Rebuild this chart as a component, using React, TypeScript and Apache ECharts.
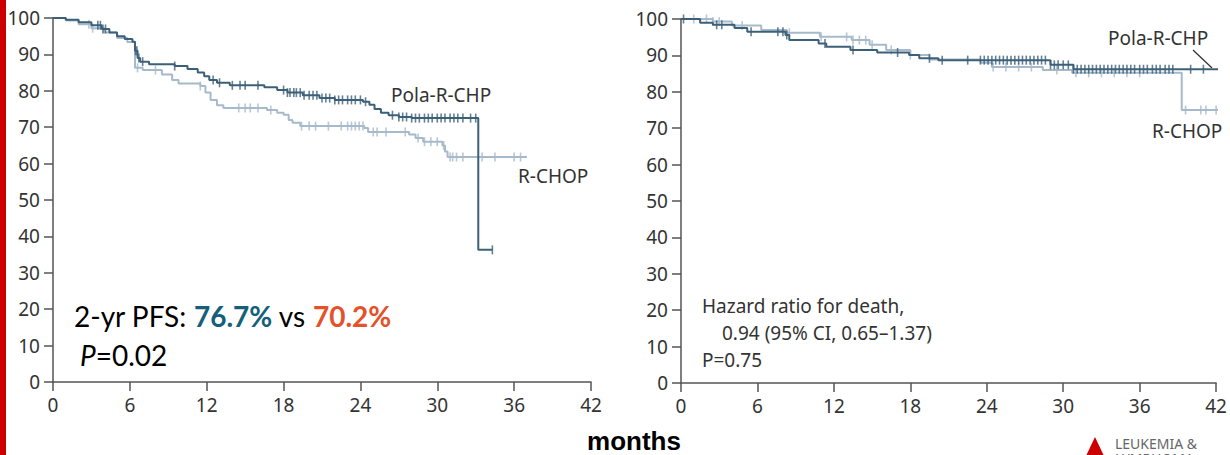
import React, { useEffect, useRef } from "react";
import * as echarts from "echarts";

// ---- Data (months, % event-free) ----
const xTicks = [0, 6, 12, 18, 24, 30, 36, 42];

const pfsPola: [number, number][] = [
  [0, 100], [1, 99.5], [2, 98.8], [3, 98], [3.8, 97], [4.4, 96], [5, 95], [5.6, 94.2],
  [6.2, 93.5], [6.4, 91], [6.6, 89], [6.8, 88], [7.5, 87.3], [9.5, 86.8], [10.5, 86],
  [11.3, 85], [11.8, 84], [12.2, 83], [12.8, 82.2], [13.8, 81.5], [16.5, 81], [17.5, 80.2],
  [18.3, 79.5], [19.5, 78.8], [20.8, 78], [22, 77.5], [24.2, 77], [24.7, 76.2], [25.1, 75],
  [25.6, 74], [26.2, 73.3], [27, 72.8], [28, 72.5], [33.2, 36.3], [34.3, 36.3],
];
const pfsRchop: [number, number][] = [
  [0, 100], [1, 99.3], [2, 98.3], [3, 97.2], [4, 96], [5, 94.5], [5.8, 93.4], [6.4, 86.3],
  [7, 85.7], [8.5, 84.5], [9.3, 83], [9.8, 82], [11.5, 81.3], [11.9, 79.5], [12.3, 77.5],
  [12.8, 76], [13.3, 75.3], [16.7, 74.7], [17.5, 74], [18, 73.4], [18.4, 72], [18.7, 71.2],
  [19.3, 70.3], [24.3, 69.8], [24.6, 68.7], [27.8, 68], [28.3, 67], [28.9, 66], [30.4, 65],
  [30.6, 63.3], [30.8, 61.8], [37, 61.8],
];
const osPola: [number, number][] = [
  [0, 100], [1.5, 99], [2.5, 98.4], [4.2, 97.5], [5.2, 96.5], [8.2, 95.6], [8.5, 94.2],
  [10.8, 93.3], [11.4, 92.4], [13.3, 91.5], [15.4, 90.8], [17.9, 90.1], [18.7, 89.2],
  [20.2, 88.7], [29, 87.4], [30.8, 86.2], [42.4, 86.2],
];
const osRchop: [number, number][] = [
  [0, 100], [2.5, 99.3], [4, 98.2], [6.3, 97], [8.3, 96.2], [10.9, 95.1], [13.4, 94.2],
  [14.8, 92.9], [16.1, 91.5], [18, 90.1], [19.5, 88.9], [23.5, 88], [24.4, 86.8], [28.4, 86],
  [30.7, 85.2], [39.3, 75], [42.4, 75],
];

// censoring times (months)
const pfsPolaCens = [3.5, 3.7, 3.9, 4.1, 6.45, 6.55, 6.7, 7.0, 9.5, 12.5, 13.0, 14.0, 14.6, 15.0, 16.0,
  18.0, 18.3, 18.5, 18.8, 19.0, 19.3, 19.6, 20.0, 20.3, 20.6, 21.0, 21.3, 21.6, 22.0, 22.3, 22.6, 23.0,
  23.3, 23.6, 24.0, 24.4, 26.5, 27.0, 27.3, 27.6, 28.0, 28.3, 28.6, 29.0, 29.3, 29.6, 30.0, 30.3, 30.6,
  31.0, 31.3, 31.6, 32.0, 32.6, 33.0, 34.3];
const pfsRchopCens = [2.8, 3.1, 6.6, 8.0, 11.5, 14.5, 15.0, 15.4, 16.0, 17.0, 19.4, 20.0, 20.5, 21.5,
  22.5, 23.0, 23.3, 23.6, 23.9, 24.2, 25.0, 25.3, 26.0, 27.5, 28.5, 29.0, 29.5, 30.0, 30.5, 31.0, 31.2,
  31.5, 32.0, 33.5, 34.5, 36.0, 36.5];
const osPolaCens = [0.2, 2.8, 3.2, 5.5, 7.6, 8.0, 8.3, 11.3, 13.5, 17.0, 19.5, 20.5, 22.5, 23.5, 23.8,
  24.1, 24.4, 24.7, 25.0, 25.3, 25.6, 25.9, 26.2, 26.5, 26.8, 27.1, 27.4, 27.7, 28.0, 28.3, 28.6, 29.0,
  29.3, 29.6, 30.0, 30.4, 30.8, 31.1, 31.4, 31.7, 32.0, 32.3, 32.6, 32.9, 33.2, 33.5, 33.8, 34.1, 34.4,
  34.7, 35.0, 35.3, 35.6, 36.0, 36.3, 36.6, 37.0, 37.3, 37.6, 38.0, 38.3, 38.6, 40.0, 41.0];
const osRchopCens = [1.0, 2.0, 2.5, 3.0, 4.8, 8.5, 11.0, 13.0, 13.5, 14.0, 14.5, 15.0, 16.5, 18.0,
  24.5, 25.5, 26.5, 27.5, 29.5, 31.0, 32.0, 33.0, 34.0, 35.0, 36.0, 39.6, 40.8, 41.2, 42.0];

const DARK = "#3d6079";
const LIGHT = "#a6bacb";
const FONT = "'Noto Sans', sans-serif";
const ANNOT = "Lato, sans-serif";

function valueAt(curve: [number, number][], t: number): number {
  let v = curve[0][1];
  for (const [x, y] of curve) {
    if (x <= t) v = y;
    else break;
  }
  return v;
}

function axisStyle() {
  return {
    axisLine: { show: true, lineStyle: { color: "#555", width: 1.5 } },
    axisTick: { show: true, length: 9, lineStyle: { color: "#555", width: 1.5 } },
    splitLine: { show: false },
  };
}

export default function App() {
  const ref = useRef<HTMLDivElement>(null);
  useEffect(() => {
    if (!ref.current) return;
    const chart = echarts.init(ref.current, undefined, { renderer: "svg" });
    const xAxisBase = (gi: number) => ({
      type: "value" as const,
      gridIndex: gi,
      min: 0,
      max: 42,
      interval: 6,
      ...axisStyle(),
      axisLabel: { fontSize: 19, color: "#333", fontFamily: FONT, margin: 13,
        formatter: (v: number) => (xTicks.includes(v) ? String(v) : "") },
    });
    const yAxisBase = (gi: number) => ({
      type: "value" as const,
      gridIndex: gi,
      min: 0,
      max: 100,
      interval: 10,
      ...axisStyle(),
      axisLabel: { fontSize: 19, color: "#333", fontFamily: FONT, margin: 13 },
    });
    const line = (data: [number, number][], color: string, gi: number, z: number) => ({
      type: "line" as const,
      xAxisIndex: gi,
      yAxisIndex: gi,
      data,
      step: "end" as const,
      showSymbol: false,
      clip: false,
      z,
      lineStyle: { color, width: 2 },
    });
    const cens = (times: number[], curve: [number, number][], color: string, gi: number, z: number) => ({
      type: "scatter" as const,
      xAxisIndex: gi,
      yAxisIndex: gi,
      data: times.map((t) => [t, valueAt(curve, t)]),
      symbol: "rect",
      symbolSize: [1.6, 9],
      itemStyle: { color },
      clip: false,
      z,
    });
    chart.setOption({
      animation: false,
      grid: [
        { left: 53, top: 18, width: 538, height: 364 },
        { left: 681, top: 19, width: 536, height: 364 },
      ],
      xAxis: [xAxisBase(0), xAxisBase(1)],
      yAxis: [yAxisBase(0), yAxisBase(1)],
      series: [
        line(pfsRchop, LIGHT, 0, 2),
        cens(pfsRchopCens, pfsRchop, LIGHT, 0, 2),
        line(pfsPola, DARK, 0, 3),
        cens(pfsPolaCens, pfsPola, DARK, 0, 3),
        line(osRchop, LIGHT, 1, 2),
        cens(osRchopCens, osRchop, LIGHT, 1, 2),
        line(osPola, DARK, 1, 3),
        cens(osPolaCens, osPola, DARK, 1, 3),
      ],
      graphic: [
        { type: "rect", left: 0, top: 0, shape: { x: 0, y: 0, width: 6, height: 455 }, style: { fill: "#cc0000" } },
        { type: "text", x: 391, y: 95, style: { text: "Pola-R-CHP", fontSize: 19, fontFamily: FONT, fill: "#333", verticalAlign: "middle" } },
        { type: "text", x: 518, y: 176, style: { text: "R-CHOP", fontSize: 19, fontFamily: FONT, fill: "#333", verticalAlign: "middle" } },
        { type: "text", x: 1108, y: 38, style: { text: "Pola-R-CHP", fontSize: 19, fontFamily: FONT, fill: "#333", verticalAlign: "middle" } },
        { type: "text", x: 1152, y: 131, style: { text: "R-CHOP", fontSize: 19, fontFamily: FONT, fill: "#333", verticalAlign: "middle" } },
        { type: "line", shape: { x1: 1193, y1: 50, x2: 1212, y2: 68 }, style: { stroke: "#333", lineWidth: 1.3 } },
        { type: "text", x: 702, y: 306, style: { text: "Hazard ratio for death,", fontSize: 19, fontFamily: FONT, fill: "#333", verticalAlign: "middle" } },
        { type: "text", x: 722, y: 333, style: { text: "0.94 (95% CI, 0.65\u20131.37)", fontSize: 19, fontFamily: FONT, fill: "#333", verticalAlign: "middle" } },
        { type: "text", x: 702, y: 360, style: { text: "P=0.75", fontSize: 19, fontFamily: FONT, fill: "#333", verticalAlign: "middle" } },
        {
          type: "text", x: 74, y: 316,
          style: {
            text: "{a|2-yr PFS: }{b|76.7%}{a| vs }{c|70.2%}",
            verticalAlign: "middle",
            rich: {
              a: { fontSize: 28, fontFamily: ANNOT, fill: "#000" },
              b: { fontSize: 28, fontFamily: ANNOT, fontWeight: "bold", fill: "#14607a" },
              c: { fontSize: 28, fontFamily: ANNOT, fontWeight: "bold", fill: "#e5522a" },
            },
          },
        },
        {
          type: "text", x: 80, y: 355,
          style: {
            text: "{i|P}{a|=0.02}",
            verticalAlign: "middle",
            rich: {
              i: { fontSize: 28, fontFamily: ANNOT, fontStyle: "italic", fill: "#000" },
              a: { fontSize: 28, fontFamily: ANNOT, fill: "#000" },
            },
          },
        },
        { type: "text", x: 634, y: 441, style: { text: "months", fontSize: 26, fontWeight: "bold", fontFamily: "'Liberation Sans', Arial, sans-serif", fill: "#000", align: "center", verticalAlign: "middle" } },
        { type: "polygon", shape: { points: [[1095, 437], [1086, 456], [1104, 456]] }, style: { fill: "#cc0000" } },
        { type: "text", x: 1115, y: 436, style: { text: "LEUKEMIA &\nLYMPHOMA", fontSize: 14, lineHeight: 15, fontFamily: FONT, fill: "#666", verticalAlign: "top" } },
      ],
    });
    return () => chart.dispose();
  }, []);
  return <div ref={ref} style={{ position: "absolute", left: 0, top: 0, width: 1230, height: 455, background: "#fff" }} />;
}
